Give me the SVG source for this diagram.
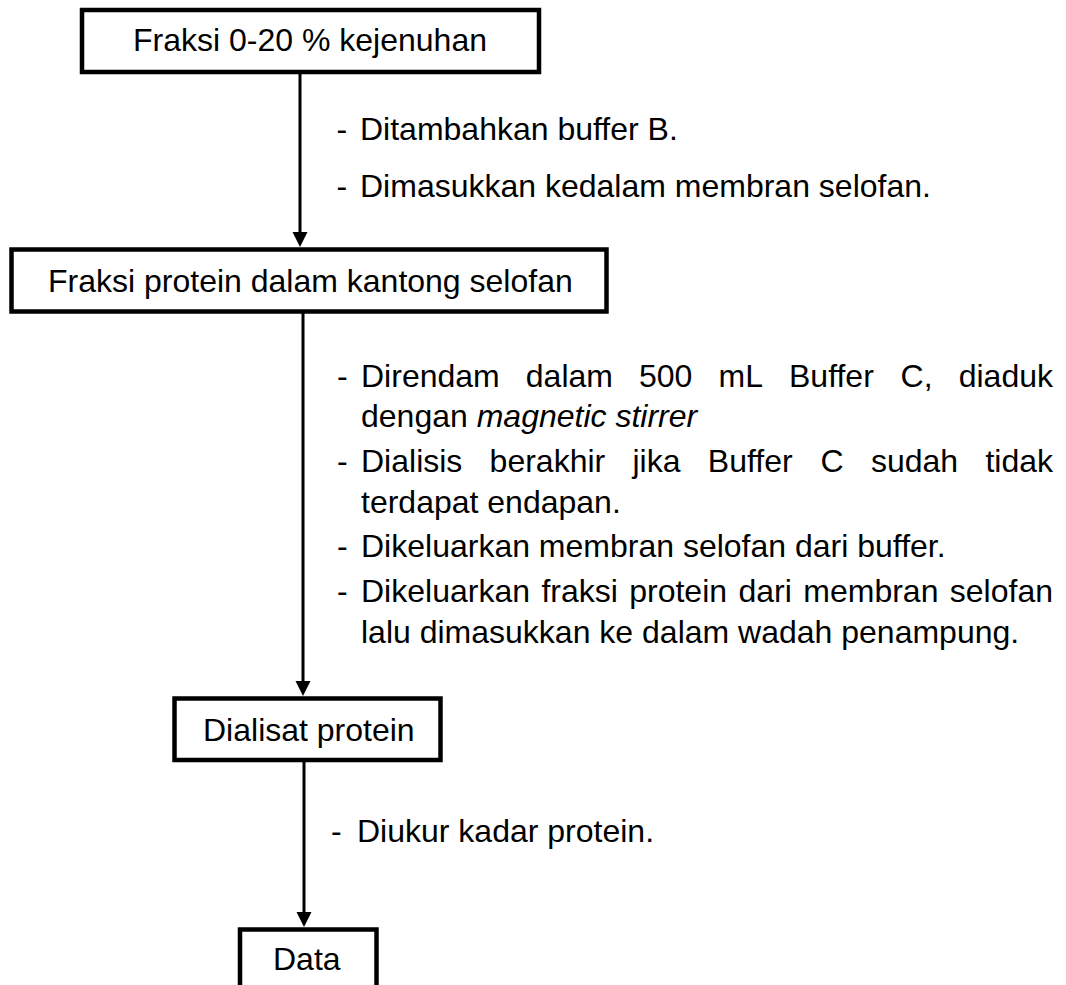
<svg xmlns="http://www.w3.org/2000/svg" width="1066" height="985" viewBox="0 0 1066 985">
  <style>
    .box { fill: #ffffff; stroke: #000000; stroke-width: 4.5; }
    .t { font-family: "Liberation Sans", Arial, sans-serif; font-size: 32px; fill: #000000; }
    .it { font-style: italic; }
    .conn { stroke: #000000; stroke-width: 3; fill: none; }
  </style>
  <defs>
    <marker id="arrow" markerUnits="userSpaceOnUse" markerWidth="16" markerHeight="16" refX="5" refY="7.5" orient="auto">
      <path d="M0,0 L15,7.5 L0,15 Z" fill="#000000"/>
    </marker>
  </defs>
  <rect width="1066" height="985" fill="#ffffff"/>

  <g id="connectors">
    <line class="conn" x1="300" y1="72" x2="300" y2="237" marker-end="url(#arrow)"/>
    <line class="conn" x1="303" y1="311" x2="303" y2="686" marker-end="url(#arrow)"/>
    <line class="conn" x1="304" y1="760" x2="304" y2="917" marker-end="url(#arrow)"/>
  </g>

  <g id="node-fraksi-0-20">
    <rect class="box" x="82" y="10" width="457" height="62"/>
    <text class="t" x="133" y="51">Fraksi 0-20 % kejenuhan</text>
  </g>

  <g id="node-fraksi-protein">
    <rect class="box" x="11.5" y="249.5" width="595" height="62"/>
    <text class="t" x="48" y="292">Fraksi protein dalam kantong selofan</text>
  </g>

  <g id="node-dialisat">
    <rect class="box" x="174.5" y="698.5" width="266" height="61.5"/>
    <text class="t" x="203" y="741">Dialisat protein</text>
  </g>

  <g id="node-data">
    <rect class="box" x="240" y="929.5" width="136.5" height="80"/>
    <text class="t" x="273" y="970">Data</text>
  </g>

  <g id="label-step1">
    <text class="t" x="336.5" y="140">-</text>
    <text class="t" x="360" y="140">Ditambahkan buffer B.</text>
    <text class="t" x="336.5" y="197">-</text>
    <text class="t" x="360" y="197">Dimasukkan kedalam membran selofan.</text>
  </g>

  <g id="label-step2">
    <text class="t" x="337" y="387">-</text>
    <text class="t" y="387"><tspan x="361">Direndam</tspan><tspan x="525.8">dalam</tspan><tspan x="639">500</tspan><tspan x="718.5">mL</tspan><tspan x="789">Buffer</tspan><tspan x="900.6">C,</tspan><tspan x="958.7">diaduk</tspan></text>
    <text class="t" x="361" y="427">dengan <tspan class="it">magnetic stirrer</tspan></text>
    <text class="t" x="337" y="472">-</text>
    <text class="t" y="472"><tspan x="361">Dialisis</tspan><tspan x="489.6">berakhir</tspan><tspan x="632.5">jika</tspan><tspan x="707.8">Buffer</tspan><tspan x="820.5">C</tspan><tspan x="870.9">sudah</tspan><tspan x="985.4">tidak</tspan></text>
    <text class="t" x="361" y="513">terdapat endapan.</text>
    <text class="t" x="337" y="557">-</text>
    <text class="t" x="361" y="557">Dikeluarkan membran selofan dari buffer.</text>
    <text class="t" x="337" y="602">-</text>
    <text class="t" y="602"><tspan x="361">Dikeluarkan</tspan><tspan x="541.4">fraksi</tspan><tspan x="629.2">protein</tspan><tspan x="738.5">dari</tspan><tspan x="803.3">membran</tspan><tspan x="949.8">selofan</tspan></text>
    <text class="t" x="361" y="643">lalu dimasukkan ke dalam wadah penampung.</text>
  </g>

  <g id="label-step3">
    <text class="t" x="331" y="842">-</text>
    <text class="t" x="357" y="842">Diukur kadar protein.</text>
  </g>
</svg>
